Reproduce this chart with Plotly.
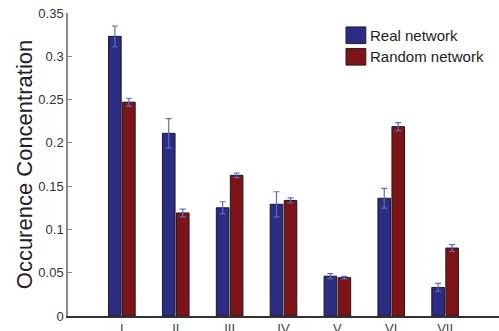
import plotly.graph_objects as go

categories = ["I", "II", "III", "IV", "V", "VI", "VII"]
real_values = [0.323, 0.211, 0.125, 0.129, 0.046, 0.136, 0.033]
real_err = [0.012, 0.017, 0.007, 0.0145, 0.003, 0.0115, 0.0047]
random_values = [0.247, 0.119, 0.1625, 0.1335, 0.0443, 0.2187, 0.0785]
random_err = [0.0045, 0.0045, 0.0027, 0.003, 0.0015, 0.0046, 0.004]
series_names = ["Real network", "Random network"]
series_colors = ["#2a2c85", "#7f1418"]
ytick_vals = [0, 0.05, 0.1, 0.15, 0.2, 0.25, 0.3, 0.35]
ytick_text = ["0", "0.05", "0.1", "0.15", "0.2", "0.25", "0.3", "0.35"]

xpos = list(range(1, len(categories) + 1))
font = "Liberation Sans, Arial, sans-serif"

fig = go.Figure()
for name, vals, errs, col in zip(series_names, [real_values, random_values],
                                 [real_err, random_err], series_colors):
    fig.add_trace(go.Bar(
        x=xpos, y=vals, name=name,
        marker=dict(color=col, line=dict(color="#1a1a1a", width=1)),
        error_y=dict(type="data", array=errs, color="#5b6cc4", thickness=1.2, width=3),
    ))

# legend drawn as boxes + text (matches the original's large swatches)
legend_y = [(0.954, 0.899, 0.927), (0.883, 0.828, 0.856)]
for (y1, y0, yt), name, col in zip(legend_y, series_names, series_colors):
    fig.add_shape(type="rect", xref="paper", yref="paper",
                  x0=0.645, x1=0.691, y0=y0, y1=y1,
                  fillcolor=col, line=dict(color="#222222", width=1))
    fig.add_annotation(xref="paper", yref="paper", x=0.696, y=yt,
                       xanchor="left", yanchor="middle", showarrow=False,
                       text=name, font=dict(size=15, color="#222222", family=font))

fig.update_layout(
    width=499, height=331,
    margin=dict(l=68, r=0, t=13, b=15),
    paper_bgcolor="white", plot_bgcolor="white",
    barmode="group", bargap=0.48, bargroupgap=0.1,
    font=dict(family=font, color="#333333", size=13),
    showlegend=False,
)
fig.update_xaxes(
    range=[0, 8], tickvals=xpos, ticktext=categories, automargin=False,
    showline=True, linecolor="#333333", linewidth=1.5,
    ticks="inside", ticklen=3, tickcolor="#888888",
    showgrid=False, zeroline=False, tickfont=dict(size=13, color="#444444"),
)
fig.update_yaxes(
    range=[0, 0.35], tickvals=ytick_vals, ticktext=ytick_text, automargin=False,
    showline=True, linecolor="#888888", linewidth=1.5,
    ticks="inside", ticklen=4, tickcolor="#888888",
    showgrid=False, zeroline=False, tickfont=dict(size=13, color="#333333"),
    title=dict(text="Occurence Concentration", font=dict(size=22, color="#222222"), standoff=0),
)

# remove the page's default 8px body margin so the figure sits at the window corner
fig.write_html("out.html", config={"displayModeBar": False},
               post_script="document.body.style.margin='0px';")
